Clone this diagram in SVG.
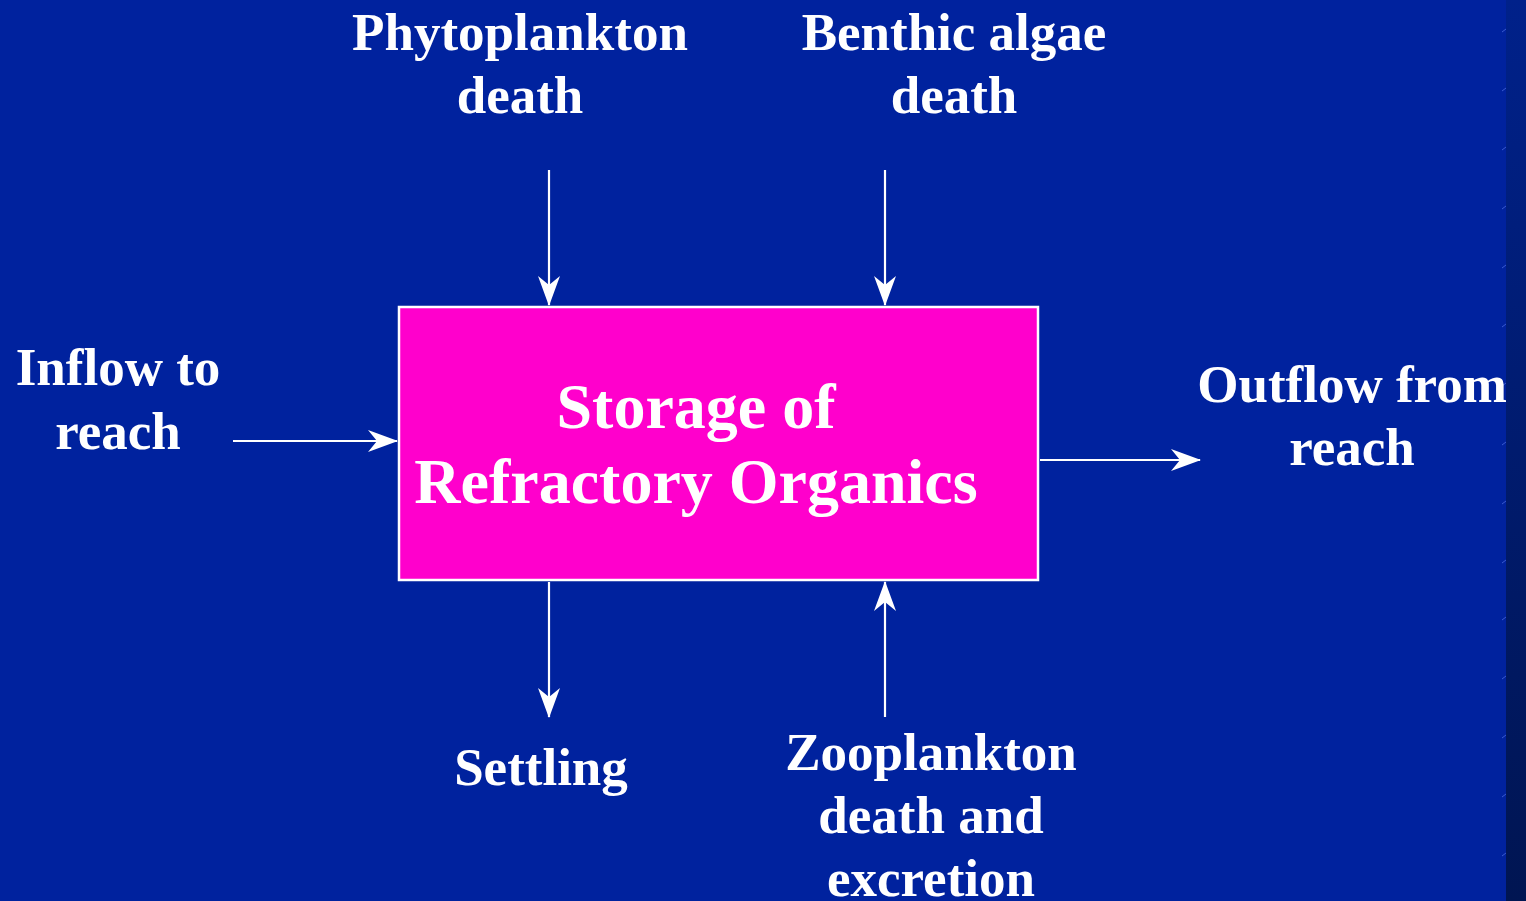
<svg xmlns="http://www.w3.org/2000/svg" width="1526" height="901" viewBox="0 0 1526 901">
<defs>
<linearGradient id="strip" x1="0" y1="0" x2="0" y2="1">
<stop offset="0" stop-color="#00218A"/>
<stop offset="1" stop-color="#001552"/>
</linearGradient>
<marker id="ah" viewBox="0 0 30 24" refX="29" refY="12" markerWidth="30" markerHeight="24" markerUnits="userSpaceOnUse" orient="auto">
<path d="M0,1 L30,12 L0,23 L9,12 Z" fill="#FFFFFF"/>
</marker>
<style>
.lbl{font-family:"Liberation Serif","Times New Roman",serif;font-weight:bold;fill:#FFFFFF;text-anchor:middle;font-size:53px}
.big{font-size:64px}
.conn line{stroke:#FFFFFF;stroke-width:2.2;marker-end:url(#ah)}
.tick{stroke:#3a5ad0;stroke-width:1}
</style>
</defs>
<rect x="0" y="0" width="1526" height="901" fill="#00229E"/>
<rect x="1506" y="0" width="20" height="901" fill="url(#strip)"/>
<g id="ticks">
<line class="tick" x1="1502" y1="32" x2="1506" y2="29"/>
<line class="tick" x1="1502" y1="91" x2="1506" y2="88"/>
<line class="tick" x1="1502" y1="150" x2="1506" y2="147"/>
<line class="tick" x1="1502" y1="209" x2="1506" y2="206"/>
<line class="tick" x1="1502" y1="268" x2="1506" y2="265"/>
<line class="tick" x1="1502" y1="327" x2="1506" y2="324"/>
<line class="tick" x1="1502" y1="386" x2="1506" y2="383"/>
<line class="tick" x1="1502" y1="445" x2="1506" y2="442"/>
<line class="tick" x1="1502" y1="504" x2="1506" y2="501"/>
<line class="tick" x1="1502" y1="563" x2="1506" y2="560"/>
<line class="tick" x1="1502" y1="620" x2="1506" y2="617"/>
<line class="tick" x1="1502" y1="679" x2="1506" y2="676"/>
<line class="tick" x1="1502" y1="738" x2="1506" y2="735"/>
<line class="tick" x1="1502" y1="797" x2="1506" y2="794"/>
<line class="tick" x1="1502" y1="856" x2="1506" y2="853"/>
</g>
<g id="storage">
<rect x="399" y="307" width="639" height="273" fill="#FF00CC" stroke="#FFFFFF" stroke-width="2.5"/>
<text class="lbl big" x="696" y="428">Storage of</text>
<text class="lbl big" x="696" y="503">Refractory Organics</text>
</g>
<g id="phytoplankton">
<text class="lbl" x="520" y="50">Phytoplankton</text>
<text class="lbl" x="520" y="113">death</text>
</g>
<g id="benthic">
<text class="lbl" x="954" y="50">Benthic algae</text>
<text class="lbl" x="954" y="113">death</text>
</g>
<g id="inflow">
<text class="lbl" x="118" y="385">Inflow to</text>
<text class="lbl" x="118" y="449">reach</text>
</g>
<g id="outflow">
<text class="lbl" x="1352" y="402">Outflow from</text>
<text class="lbl" x="1352" y="465">reach</text>
</g>
<g id="settling">
<text class="lbl" x="541" y="785">Settling</text>
</g>
<g id="zooplankton">
<text class="lbl" x="931" y="770">Zooplankton</text>
<text class="lbl" x="931" y="833">death and</text>
<text class="lbl" x="931" y="896">excretion</text>
</g>
<g id="connectors" class="conn">
<line x1="549" y1="170" x2="549" y2="305"/>
<line x1="885" y1="170" x2="885" y2="305"/>
<line x1="233" y1="441" x2="397" y2="441"/>
<line x1="1040" y1="460" x2="1200" y2="460"/>
<line x1="549" y1="582" x2="549" y2="717"/>
<line x1="885" y1="717" x2="885" y2="582"/>
</g>
</svg>
